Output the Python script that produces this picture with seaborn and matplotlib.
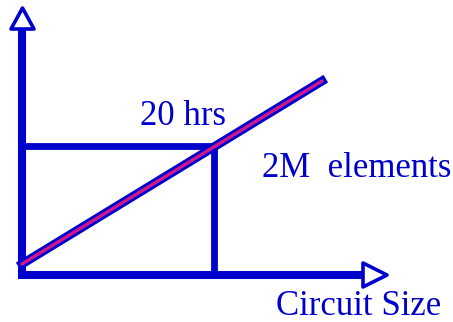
import matplotlib
matplotlib.use("Agg")
import matplotlib.pyplot as plt
import seaborn as sns
import pandas as pd

# diagram in pixel coordinates (y grows downward)
axis_x = [22, 22, 363]
axis_y = [29, 275, 275]
trend_x = [22, 322]
trend_y = [264, 81]
guide_x = [22, 214, 214]
guide_y = [146, 146, 275]
labels = ["20 hrs", "2M  elements", "Circuit Size"]
label_x = [183, 262, 276]
label_y = [125, 177, 315]

blue = "#0000CC"
pink = "#D0188C"

sns.set_style("white")
plt.rcParams['font.family'] = ['Liberation Serif', 'DejaVu Serif']

fig = plt.figure(figsize=(4.53, 3.22), dpi=100)
ax = fig.add_axes([0, 0, 1, 1])

axes_df = pd.DataFrame({"x": axis_x, "y": axis_y})
guide_df = pd.DataFrame({"x": guide_x, "y": guide_y})
trend_df = pd.DataFrame({"x": trend_x, "y": trend_y})

kw = dict(x="x", y="y", sort=False, estimator=None, ax=ax)
sns.lineplot(data=guide_df, color=blue, lw=4.9, solid_joinstyle="miter", **kw)
sns.lineplot(data=axes_df, color=blue, lw=5.8, solid_joinstyle="miter", **kw)
sns.lineplot(data=trend_df, color=blue, lw=6.4, solid_capstyle="projecting", **kw)
sns.lineplot(data=trend_df, color=pink, lw=2.4, **kw)

# hollow arrow heads
ax.fill([11, 34, 22.5], [29, 29, 8], facecolor="white", edgecolor=blue, lw=2.6,
        joinstyle="round", zorder=5)
ax.fill([363, 363, 387], [263, 287, 275], facecolor="white", edgecolor=blue, lw=2.6,
        joinstyle="round", zorder=5)

for t, x, y in zip(labels, label_x, label_y):
    ha = "center" if t == "20 hrs" else "left"
    ax.text(x, y, t, color=blue, fontsize=25, ha=ha, va="baseline")

ax.set_xlim(0, 453)
ax.set_ylim(322, 0)
ax.set_xlabel("")
ax.set_ylabel("")
ax.axis("off")

fig.savefig("out.png", dpi=100)
